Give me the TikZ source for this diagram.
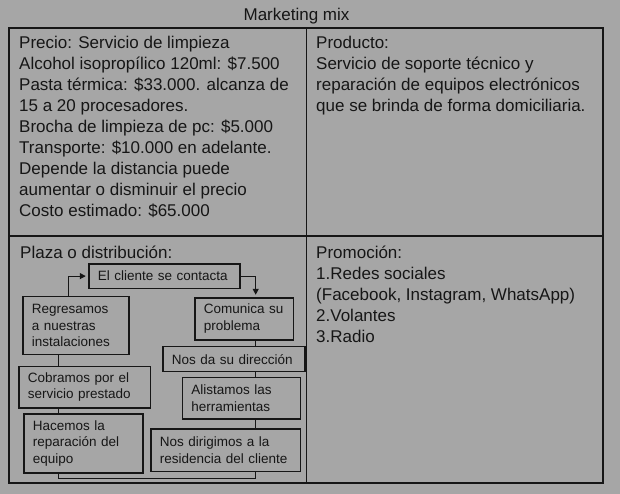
\documentclass[tikz,border=0pt]{standalone}
\usepackage{fontspec}
\setmainfont{Liberation Sans}
\usetikzlibrary{arrows.meta}
\definecolor{bg}{RGB}{166,166,166}
\definecolor{ink}{RGB}{22,22,22}
\begin{document}
\begin{tikzpicture}[x=1pt,y=-1pt,
  bigtext/.style={anchor=base west,inner sep=0pt,align=left,text=ink,
    font=\fontsize{17}{21}\selectfont},
  flowbox/.style={draw=ink,line width=1.2pt,anchor=north west,inner xsep=9pt,inner ysep=0pt,
    align=left,text=ink,font=\fontsize{13.5}{16.8}\selectfont},
  link/.style={draw=ink,line width=1.1pt},
  arrowlink/.style={link,-{Triangle[length=6pt,width=6pt]},shorten >=2.5pt}]
\fill[bg] (0,0) rectangle (620,494);
\useasboundingbox (0,0) rectangle (620,494);
% table
\draw[ink,line width=1.4pt] (306.5,28) -- (306.5,483) (9,236) -- (603,236);
\draw[ink,line width=1.8pt] (9,28) rectangle (603,483);
\node[anchor=base,inner sep=0pt,text=ink,font=\fontsize{17}{21}\selectfont] (title) at (296.5,21) {Marketing mix};
% multi-line nodes: base anchor = baseline of the last line
\node[bigtext] (precio) at (19,217) {Precio: Servicio de limpieza\\Alcohol isopropílico 120ml: \$7.500\\Pasta térmica: \$33.000. alcanza de\\15 a 20 procesadores.\\Brocha de limpieza de pc: \$5.000\\Transporte: \$10.000 en adelante.\\Depende la distancia puede\\aumentar o disminuir el precio\\Costo estimado: \$65.000};
\node[bigtext] (producto) at (316,112) {Producto:\\Servicio de soporte técnico y\\reparación de equipos electrónicos\\que se brinda de forma domiciliaria.};
\node[bigtext] (plaza) at (20,258.5) {Plaza o distribución:};
\node[bigtext] (promo) at (316,342.5) {Promoción:\\1.Redes sociales\\(Facebook, Instagram, WhatsApp)\\2.Volantes\\3.Radio};
% flow boxes
\node[flowbox,minimum width=151pt,minimum height=24.4pt,text width=133pt] (contacta) at (88.3,263.3) {El cliente se contacta};
\node[flowbox,minimum width=106pt,minimum height=58pt,text width=88pt] (regresamos) at (22.3,296) {Regresamos\\a nuestras\\instalaciones};
\node[flowbox,minimum width=98.4pt,minimum height=42pt,text width=80.4pt] (comunica) at (194.3,297.3) {Comunica su\\problema};
\node[flowbox,minimum width=142pt,minimum height=25pt,text width=124pt] (direccion) at (162.3,346) {Nos da su dirección};
\node[flowbox,minimum width=118.3pt,minimum height=41.6pt,text width=100.3pt] (alistamos) at (181.7,376.7) {Alistamos las\\herramientas};
\node[flowbox,minimum width=149.7pt,minimum height=42.7pt,text width=131.7pt] (dirigimos) at (150.3,428.3) {Nos dirigimos a la\\residencia del cliente};
\node[flowbox,minimum width=131.7pt,minimum height=41.6pt,text width=113.7pt] (cobramos) at (18.3,365.7) {Cobramos por el\\servicio prestado};
\node[flowbox,minimum width=119pt,minimum height=59pt,text width=101pt] (hacemos) at (23.3,413.3) {Hacemos la\\reparación del\\equipo};
% connectors
\coordinate (colL) at (58.3,0);
\coordinate (colR) at (255.7,0);
\coordinate (bottomrun) at (0,478.3);
\draw[arrowlink] (regresamos.north -| 68.3,0) |- (contacta.west);
\draw[arrowlink] (contacta.east) -| (comunica.north -| colR);
\draw[link] (comunica.south -| colR) -- (direccion.north -| colR);
\draw[link] (direccion.south -| colR) -- (alistamos.north -| colR);
\draw[link] (alistamos.south -| colR) -- (dirigimos.north -| colR);
\draw[link] (dirigimos.south -| colR) -- (bottomrun -| colR) -- (bottomrun -| colL) -- (hacemos.south -| colL);
\draw[link] (hacemos.north -| colL) -- (cobramos.south -| colL);
\draw[link] (cobramos.north -| colL) -- (regresamos.south -| colL);
\end{tikzpicture}
\end{document}
